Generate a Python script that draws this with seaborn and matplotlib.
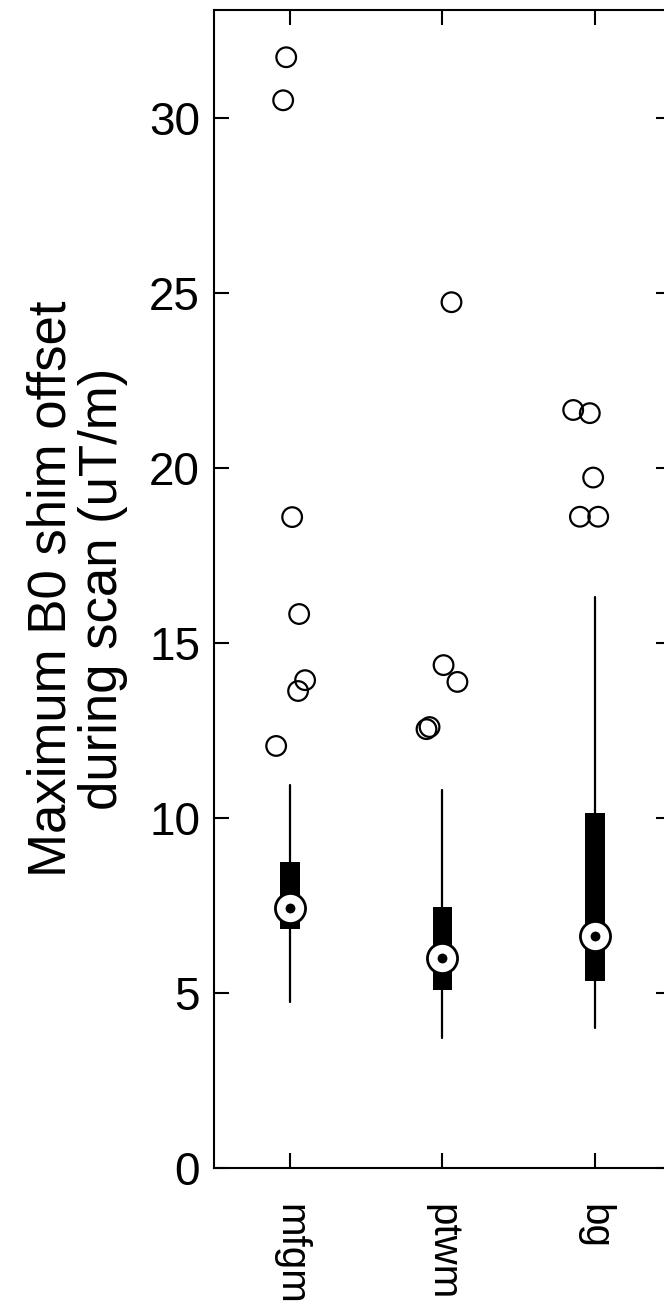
import matplotlib
matplotlib.use("Agg")
import matplotlib.pyplot as plt
import seaborn as sns
import pandas as pd
import numpy as np

# ---- data ----
categories = ["mfgm", "ptwm", "bg"]
q1 = [6.82, 5.09, 5.35]
median = [7.42, 5.99, 6.63]
q3 = [8.75, 7.47, 10.15]
whisker_low = [4.75, 3.71, 3.99]
whisker_high = [10.94, 10.80, 16.31]

outlier_group = ["mfgm"] * 7 + ["ptwm"] * 5 + ["bg"] * 5
outlier_value = [31.74, 30.51, 18.60, 15.83, 13.94, 13.63, 12.06,
                 24.74, 14.37, 13.89, 12.54, 12.60,
                 21.66, 21.57, 19.73, 18.61, 18.61]
# horizontal jitter of each outlier (category units)
outlier_jitter = [-0.026, -0.046, 0.013, 0.059, 0.098, 0.052, -0.092,
                  0.059, 0.007, 0.098, -0.105, -0.085,
                  -0.142, -0.033, -0.011, -0.098, 0.022]

y_ticks = [0, 5, 10, 15, 20, 25, 30]
y_label = "Maximum B0 shim offset\nduring scan (uT/m)"

# ---- style ----
sns.set_style("ticks", {"axes.edgecolor": "black", "text.color": "black",
                        "xtick.color": "black", "ytick.color": "black",
                        "axes.labelcolor": "black"})
plt.rcParams['font.family'] = ['Liberation Sans', 'DejaVu Sans']
plt.rcParams['axes.linewidth'] = 1.5

fig = plt.figure(figsize=(6.64, 13.08), dpi=100)
ax = fig.add_axes([214 / 664, 140 / 1308, 457 / 664, 1158 / 1308])

pos = np.arange(1, len(categories) + 1)
stats = []
for i, c in enumerate(categories):
    stats.append(dict(label=c, q1=q1[i], med=median[i], q3=q3[i],
                      whislo=whisker_low[i], whishi=whisker_high[i], fliers=[]))

ax.bxp(stats, positions=pos, widths=0.13, patch_artist=True, showfliers=False,
       showcaps=False,
       boxprops=dict(facecolor="black", edgecolor="black", linewidth=0),
       whiskerprops=dict(color="black", linewidth=1.6),
       medianprops=dict(linewidth=0, color="none"),
       zorder=2)

# outliers
df_out = pd.DataFrame({"group": outlier_group, "value": outlier_value,
                       "jitter": outlier_jitter})
df_out["x"] = df_out["group"].map({c: i + 1 for i, c in enumerate(categories)}) + df_out["jitter"]
sns.scatterplot(data=df_out, x="x", y="value", ax=ax, s=200, marker="o",
                facecolor="none", edgecolor="black", linewidth=1.6, zorder=3,
                legend=False)

# medians: white circle with black dot
df_med = pd.DataFrame({"x": pos, "median": median})
sns.scatterplot(data=df_med, x="x", y="median", ax=ax, s=470, marker="o",
                facecolor="white", edgecolor="black", linewidth=2.0, zorder=4,
                legend=False)
sns.scatterplot(data=df_med, x="x", y="median", ax=ax, s=50, marker="o",
                color="black", edgecolor="black", linewidth=0, zorder=5,
                legend=False)

ax.set_xlim(0.5, 3.5)
ax.set_ylim(0, 33.09)
ax.set_yticks(y_ticks)
ax.set_yticklabels([str(t) for t in y_ticks], fontsize=33)
ax.set_xticks(pos)
ax.set_xticklabels(categories, fontsize=29, rotation=270, ha="center", va="top")
ax.set_xlabel("")
ax.set_ylabel(y_label, fontsize=38, linespacing=1.05, labelpad=15)

ax.tick_params(axis="both", direction="in", length=11, width=1.5,
               top=True, right=True, colors="black")
ax.tick_params(axis="y", pad=10)
ax.tick_params(axis="x", pad=26)
for s in ax.spines.values():
    s.set_visible(True)
    s.set_linewidth(1.5)
    s.set_color("black")

fig.savefig("out.png", dpi=100)
